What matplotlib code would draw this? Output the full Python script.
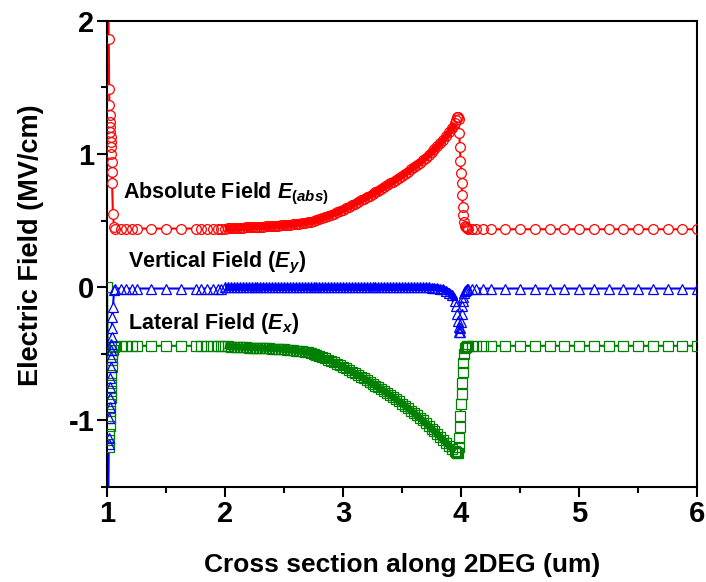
import numpy as np
import matplotlib
matplotlib.use('Agg')
import matplotlib.pyplot as plt

plt.rcParams['font.family'] = ['Liberation Sans', 'DejaVu Sans']
plt.rcParams['font.weight'] = 'bold'
plt.rcParams['mathtext.fontset'] = 'custom'
plt.rcParams['mathtext.rm'] = 'Liberation Sans:bold'
plt.rcParams['mathtext.bf'] = 'Liberation Sans:bold'
plt.rcParams['mathtext.it'] = 'Liberation Sans:italic:bold'

# sample positions along the 2DEG (um): refined near x=1 and x=4
x_left = [1.000, 1.015, 1.018, 1.020, 1.022, 1.024, 1.026, 1.028, 1.030, 1.032,
          1.034, 1.036, 1.038, 1.040, 1.043, 1.050, 1.060, 1.068, 1.116, 1.160,
          1.210, 1.250, 1.375, 1.500, 1.625, 1.750, 1.800, 1.850, 1.900, 1.940,
          1.970]
x_mid = [2.000, 2.025, 2.050, 2.075, 2.100, 2.125, 2.150, 2.175, 2.200, 2.225,
         2.250, 2.275, 2.300, 2.325, 2.350, 2.375, 2.400, 2.425, 2.450, 2.475,
         2.500, 2.525, 2.550, 2.575, 2.600, 2.625, 2.650, 2.675, 2.700, 2.725,
         2.750, 2.775, 2.800, 2.825, 2.850, 2.875, 2.900, 2.925, 2.950, 2.975,
         3.000, 3.025, 3.050, 3.075, 3.100, 3.125, 3.150, 3.175, 3.200, 3.225,
         3.250, 3.275, 3.300, 3.325, 3.350, 3.375, 3.400, 3.425, 3.450, 3.475,
         3.500, 3.525, 3.550, 3.575, 3.600, 3.625, 3.650, 3.675, 3.700, 3.725,
         3.750, 3.775, 3.800, 3.825, 3.850, 3.875, 3.900, 3.925, 3.950]
x_right = [3.960, 3.970, 3.975, 3.980, 3.985, 3.990, 3.995, 4.000, 4.005, 4.010,
           4.015, 4.020, 4.025, 4.030, 4.040, 4.050, 4.060, 4.090, 4.125, 4.1875,
           4.250, 4.375, 4.500, 4.625, 4.750, 4.875, 5.000, 5.125, 5.250, 5.375,
           5.500, 5.625, 5.750, 5.875, 6.000]

# absolute field (MV/cm)
e_abs_left = [2.70, 1.86, 1.485, 1.365, 1.29, 1.24, 1.20, 1.165, 1.13, 1.09,
              1.05, 1.00, 0.94, 0.865, 0.78, 0.55, 0.45, 0.44, 0.44, 0.44,
              0.44, 0.44, 0.44, 0.44, 0.44, 0.44, 0.44, 0.44, 0.44, 0.44,
              0.44]
e_abs_mid = [0.440, 0.442, 0.444, 0.445, 0.446, 0.447, 0.448, 0.449, 0.450, 0.451,
             0.452, 0.453, 0.454, 0.455, 0.456, 0.458, 0.459, 0.461, 0.462, 0.464,
             0.466, 0.468, 0.470, 0.472, 0.475, 0.478, 0.481, 0.484, 0.488, 0.492,
             0.497, 0.503, 0.510, 0.518, 0.526, 0.535, 0.544, 0.553, 0.563, 0.573,
             0.583, 0.594, 0.605, 0.616, 0.627, 0.639, 0.651, 0.663, 0.675, 0.687,
             0.700, 0.712, 0.725, 0.738, 0.751, 0.765, 0.779, 0.793, 0.807, 0.822,
             0.837, 0.852, 0.868, 0.884, 0.900, 0.917, 0.935, 0.953, 0.972, 0.992,
             1.012, 1.034, 1.057, 1.081, 1.106, 1.133, 1.162, 1.194, 1.230]
e_abs_right = [1.255, 1.275, 1.280, 1.260, 1.160, 1.050, 0.950, 0.860, 0.780, 0.690,
               0.600, 0.540, 0.490, 0.460, 0.450, 0.445, 0.440, 0.435, 0.435, 0.435,
               0.435, 0.435, 0.435, 0.435, 0.435, 0.435, 0.435, 0.435, 0.435, 0.435,
               0.435, 0.435, 0.435, 0.435, 0.435]

# vertical field Ey (MV/cm)
e_y_left = [-2.60, -1.18, -1.13, -0.98, -0.90, -0.83, -0.75, -0.68, -0.60, -0.525,
            -0.475, -0.425, -0.375, -0.31, -0.225, -0.15, -0.02, -0.01, -0.01, -0.01,
            -0.01, -0.01, -0.01, -0.01, -0.01, -0.01, -0.01, -0.01, -0.01, -0.01,
            -0.01]
e_y_mid = [-0.002, -0.002, -0.002, -0.002, -0.002, -0.002, -0.002, -0.002, -0.002, -0.002,
           -0.002, -0.002, -0.002, -0.002, -0.002, -0.002, -0.002, -0.002, -0.002, -0.002,
           -0.002, -0.002, -0.002, -0.002, -0.002, -0.002, -0.002, -0.002, -0.002, -0.002,
           -0.002, -0.002, -0.002, -0.002, -0.002, -0.002, -0.002, -0.002, -0.002, -0.002,
           -0.002, -0.002, -0.002, -0.002, -0.002, -0.002, -0.002, -0.002, -0.002, -0.002,
           -0.002, -0.002, -0.002, -0.002, -0.002, -0.002, -0.002, -0.002, -0.002, -0.002,
           -0.002, -0.002, -0.002, -0.002, -0.002, -0.002, -0.002, -0.002, -0.002, -0.002,
           -0.003, -0.004, -0.005, -0.010, -0.015, -0.025, -0.040, -0.060, -0.100]
e_y_right = [-0.14, -0.20, -0.25, -0.30, -0.34, -0.34, -0.31, -0.26, -0.20, -0.14,
             -0.10, -0.07, -0.045, -0.03, -0.02, -0.015, -0.01, -0.01, -0.01, -0.01,
             -0.01, -0.01, -0.01, -0.01, -0.01, -0.01, -0.01, -0.01, -0.01, -0.01,
             -0.01, -0.01, -0.01, -0.01, -0.01]

# lateral field Ex (MV/cm)
e_x_left = [0.00, -1.20, -1.15, -1.10, -1.04, -0.98, -0.93, -0.88, -0.83, -0.78,
            -0.72, -0.66, -0.60, -0.55, -0.50, -0.47, -0.45, -0.44, -0.44, -0.44,
            -0.44, -0.44, -0.44, -0.44, -0.44, -0.44, -0.44, -0.44, -0.44, -0.44,
            -0.44]
e_x_mid = [-0.440, -0.445, -0.447, -0.448, -0.449, -0.450, -0.451, -0.452, -0.453, -0.454,
           -0.455, -0.456, -0.457, -0.458, -0.459, -0.460, -0.461, -0.462, -0.463, -0.465,
           -0.467, -0.469, -0.471, -0.473, -0.476, -0.479, -0.482, -0.486, -0.490, -0.495,
           -0.501, -0.508, -0.516, -0.525, -0.534, -0.544, -0.554, -0.564, -0.575, -0.586,
           -0.597, -0.609, -0.621, -0.633, -0.645, -0.658, -0.671, -0.684, -0.697, -0.710,
           -0.724, -0.738, -0.752, -0.766, -0.781, -0.796, -0.811, -0.826, -0.842, -0.858,
           -0.874, -0.891, -0.908, -0.926, -0.944, -0.962, -0.981, -1.000, -1.020, -1.040,
           -1.061, -1.082, -1.104, -1.126, -1.148, -1.170, -1.192, -1.213, -1.232]
e_x_right = [-1.240, -1.245, -1.245, -1.20, -1.13, -1.05, -0.97, -0.88, -0.80, -0.72,
             -0.64, -0.57, -0.50, -0.46, -0.45, -0.445, -0.44, -0.44, -0.44, -0.44,
             -0.44, -0.44, -0.44, -0.44, -0.44, -0.44, -0.44, -0.44, -0.44, -0.44,
             -0.44, -0.44, -0.44, -0.44, -0.44]

x = np.concatenate([x_left, x_mid, x_right])
series = [
    (e_x_left, e_x_mid, e_x_right, 's', '#008000'),
    (e_abs_left, e_abs_mid, e_abs_right, 'o', '#ff0000'),
    (e_y_left, e_y_mid, e_y_right, '^', '#0000ff'),
]

fig = plt.figure(figsize=(7.06, 5.82), dpi=100)
ax = fig.add_axes([0.1516, 0.1632, 0.8357, 0.8011])

# line + symbol with a gap around each symbol: line, white masks, then hollow symbols
for yl, ym, yr, m, c in series:
    y = np.concatenate([yl, ym, yr])
    ax.plot(x, y, color=c, linewidth=1.5, zorder=1)
    ax.plot(x, y, linestyle='none', marker=m, markersize=7, markerfacecolor='white',
            markeredgecolor='none', zorder=2)
# the finely meshed stretch: symbols pile up into a solid band
for yl, ym, yr, m, c in series:
    ax.plot(x_mid, ym, color=c, linewidth=5, solid_capstyle='butt', zorder=2.5)
for yl, ym, yr, m, c in series:
    y = np.concatenate([yl, ym, yr])
    ax.plot(x, y, linestyle='none', marker=m, markersize=7, markerfacecolor='none',
            markeredgecolor=c, markeredgewidth=0.9, zorder=3)

ax.set_xlim(1, 6)
ax.set_ylim(-1.5, 2)
ax.set_xticks([1, 2, 3, 4, 5, 6])
ax.set_xticks([1.5, 2.5, 3.5, 4.5, 5.5], minor=True)
ax.set_yticks([-1, 0, 1, 2])
ax.set_yticks([-1.5, -0.5, 0.5, 1.5], minor=True)
ax.set_yticklabels(['-1', '0', '1', '2'])

for s in ax.spines.values():
    s.set_linewidth(1.5)
ax.tick_params(which='major', direction='out', length=7, width=1.5, labelsize=21, pad=2)
ax.tick_params(which='minor', direction='out', length=4, width=1.5)
ax.tick_params(top=False, right=False)
for lab in ax.get_xticklabels() + ax.get_yticklabels():
    lab.set_fontweight('bold')

ax.set_xlabel('Cross section along 2DEG (um)', fontsize=19, fontweight='bold')
ax.set_ylabel('Electric Field (MV/cm)', fontsize=19.5, fontweight='bold')
ax.xaxis.set_label_coords(0.5, -0.142)
ax.yaxis.set_label_coords(-0.107, 0.519)

ax.text(1.136, 0.665, r'Absolute Field $E_{\mathit{(abs)}}$', fontsize=15.5, fontweight='bold')
ax.text(1.178, 0.15, r'Vertical Field ($E_y$)', fontsize=15.5, fontweight='bold')
ax.text(1.178, -0.313, r'Lateral Field ($E_x$)', fontsize=15.5, fontweight='bold')

fig.savefig('out.png', dpi=100)
